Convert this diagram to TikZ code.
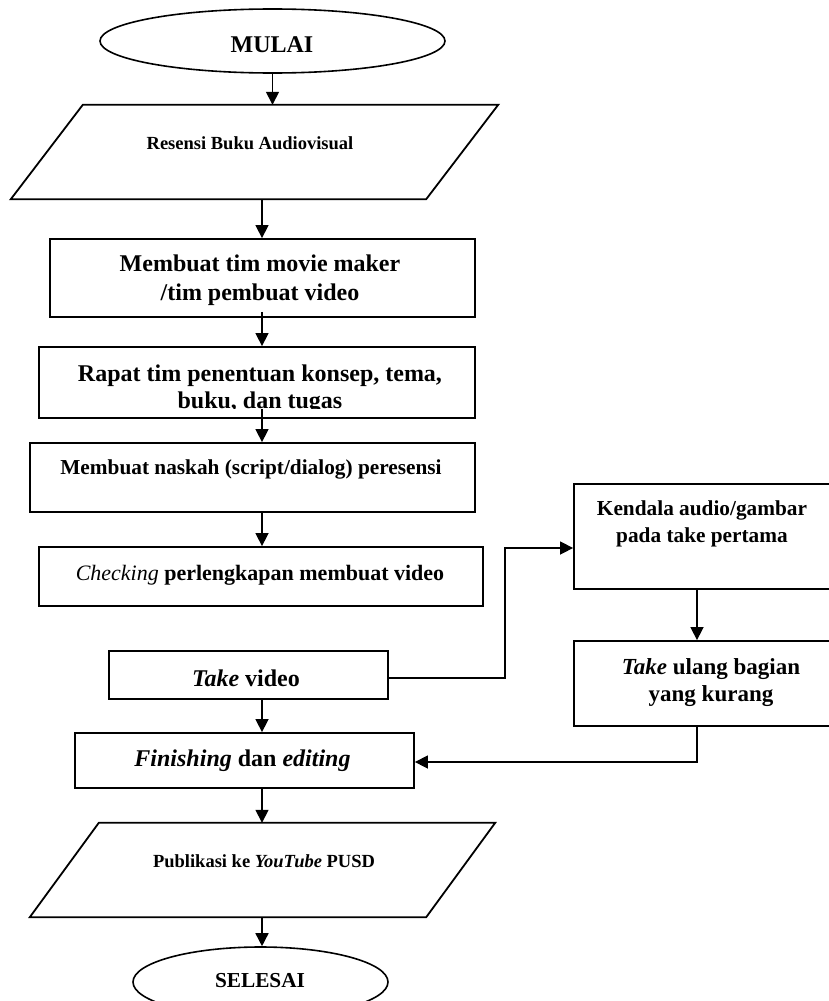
\documentclass[tikz,border=0pt]{standalone}
\usepackage{fontspec}
\setmainfont{Liberation Serif}
\usetikzlibrary{arrows.meta,shapes.geometric,calc}
\begin{document}
\begin{tikzpicture}[x=1pt,y=-1pt,
  box/.style={draw,line width=1.8pt,rectangle,inner sep=0pt},
  term/.style={draw,line width=1.6pt,ellipse,inner sep=0pt},
  ghost/.style={rectangle,inner sep=0pt},
  txt/.style={inner sep=0pt,align=center},
  flow/.style={line width=1.5pt,-{Triangle[length=13pt,width=13pt]}},
  pg/.style={line width=1.8pt,line join=miter}]
\useasboundingbox (0,0) rectangle (829,1001);

\coordinate (spine) at (262,0);
\coordinate (rspine) at (697,0);
\coordinate (bend) at (505,548);

% shapes
\node[term,minimum width=345pt,minimum height=64pt] (mulai) at (272.5,41) {};
\node[ghost,minimum width=415pt,minimum height=94pt] (resensi) at (254.5,152) {};
\draw[pg] ($(resensi.north west)+(36,0)$) -- ($(resensi.north east)+(36,0)$)
  -- ($(resensi.south east)+(-36,0)$) -- ($(resensi.south west)+(-36,0)$) -- cycle;
\node[box,minimum width=425pt,minimum height=78pt] (tim) at (262.5,278) {};
\node[box,minimum width=436pt,minimum height=71pt] (rapat) at (257,382.5) {};
\node[box,minimum width=445pt,minimum height=69pt] (naskah) at (252.5,477.5) {};
\node[box,minimum width=444pt,minimum height=59pt] (checking) at (261,576.5) {};
\node[box,minimum width=279pt,minimum height=48pt] (take) at (248.5,675) {};
\node[box,minimum width=258pt,minimum height=105pt] (kendala) at (703,536.5) {};
\node[box,minimum width=258pt,minimum height=85pt] (takeulang) at (703,683.5) {};
\node[box,minimum width=339pt,minimum height=55pt] (finishing) at (244.5,760.5) {};
\node[ghost,minimum width=396pt,minimum height=94pt] (publikasi) at (262.5,870) {};
\draw[pg] ($(publikasi.north west)+(34.5,0)$) -- ($(publikasi.north east)+(34.5,0)$)
  -- ($(publikasi.south east)+(-34.5,0)$) -- ($(publikasi.south west)+(-34.5,0)$) -- cycle;
\node[term,minimum width=255pt,minimum height=70pt] (selesai) at (260.5,982) {};

% texts
\node[txt,font=\bfseries\fontsize{24}{29}\selectfont] (t-mulai) at (272,45) {MULAI};
\node[txt,font=\bfseries\fontsize{18.5}{22}\selectfont] (t-resensi) at (250,143) {Resensi Buku Audiovisual};
\node[txt,font=\bfseries\fontsize{24}{29}\selectfont] (t-tim) at (260,280) {Membuat tim movie maker\\/tim pembuat video};
\begin{scope}
\clip (39,347) rectangle (475,408);
\node[txt,font=\bfseries\fontsize{24}{27}\selectfont] (t-rapat) at (260,389) {Rapat tim penentuan konsep, tema,\\buku, dan tugas};
\end{scope}
\node[txt,font=\bfseries\fontsize{21.3}{26}\selectfont] (t-naskah) at (251,469) {Membuat naskah (script/dialog) peresensi};
\node[txt,font=\bfseries\fontsize{22}{26}\selectfont] (t-checking) at (260,575) {{\mdseries\itshape Checking} perlengkapan membuat video};
\node[txt,font=\bfseries\fontsize{24}{28}\selectfont] (t-take) at (246,678) {\textit{Take} video};
\node[txt,font=\bfseries\fontsize{21.3}{27}\selectfont] (t-kendala) at (702,524) {Kendala audio/gambar\\pada take pertama};
\node[txt,font=\bfseries\fontsize{23}{27}\selectfont] (t-takeulang) at (711,683) {\textit{Take} ulang bagian\\yang kurang};
\node[txt,font=\bfseries\fontsize{24}{28}\selectfont] (t-finishing) at (242.5,761) {\textit{Finishing} dan \textit{editing}};
\node[txt,font=\bfseries\fontsize{18.5}{22}\selectfont] (t-publikasi) at (264,861) {Publikasi ke \textit{YouTube} PUSD};
\node[txt,font=\bfseries\fontsize{21.3}{26}\selectfont] (t-selesai) at (260,981) {SELESAI};

% connectors
\draw[flow] (mulai.south) -- (mulai.south |- resensi.north);
\draw[flow] (spine |- resensi.south) -- (spine |- tim.north);
\draw[flow] ($(spine |- tim.south)+(0,-6)$) -- (spine |- rapat.north);
\draw[flow] ($(spine |- rapat.south)+(0,-10)$) -- (spine |- naskah.north);
\draw[flow] (spine |- naskah.south) -- (spine |- checking.north);
\draw[flow] (spine |- take.south) -- (spine |- finishing.north);
\draw[flow] ($(take.east)+(0,3)$) -| (bend) -- (kendala.west |- bend);
\draw[flow] (rspine |- kendala.south) -- (rspine |- takeulang.north);
\draw[flow] (rspine |- takeulang.south) |- ($(finishing.east)+(0,1.5)$);
\draw[flow] (spine |- finishing.south) -- (spine |- publikasi.north);
\draw[flow] (spine |- publikasi.south) -- (spine |- selesai.north);
\end{tikzpicture}
\end{document}
